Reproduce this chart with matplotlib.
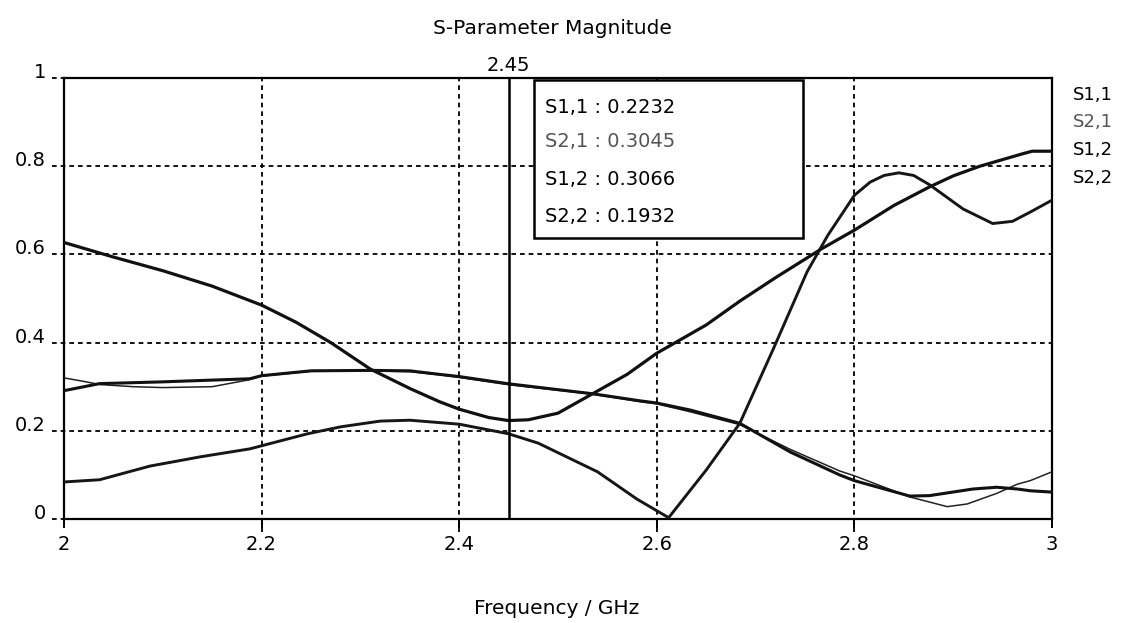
import matplotlib
matplotlib.use("Agg")
import matplotlib.pyplot as plt

# ---------------- data ----------------
s11_f = [2.00, 2.05, 2.10, 2.15, 2.20, 2.235, 2.27, 2.31, 2.35, 2.38, 2.40, 2.43, 2.45,
         2.47, 2.50, 2.535, 2.57, 2.60, 2.65, 2.684, 2.72, 2.767, 2.80, 2.84, 2.876, 2.90,
         2.927, 2.95, 2.97, 2.98, 3.00]
s11_v = [0.627, 0.594, 0.563, 0.528, 0.485, 0.446, 0.400, 0.340, 0.296, 0.266, 0.249,
         0.230, 0.2232, 0.225, 0.240, 0.284, 0.328, 0.376, 0.440, 0.494, 0.547, 0.613, 0.655,
         0.711, 0.753, 0.778, 0.800, 0.815, 0.828, 0.834, 0.834]

s22_f = [2.00, 2.036, 2.087, 2.138, 2.188, 2.20, 2.246, 2.28, 2.32, 2.35, 2.40, 2.45, 2.48,
         2.54, 2.58, 2.612, 2.65, 2.684, 2.718, 2.752, 2.773, 2.80, 2.816, 2.83, 2.845, 2.86,
         2.876, 2.91, 2.94, 2.96, 2.978, 3.00]
s22_v = [0.084, 0.089, 0.120, 0.141, 0.159, 0.166, 0.193, 0.209, 0.222, 0.224, 0.215, 0.1932,
         0.172, 0.107, 0.045, 0.003, 0.111, 0.217, 0.386, 0.560, 0.643, 0.734, 0.764, 0.779,
         0.785, 0.779, 0.758, 0.703, 0.670, 0.675, 0.696, 0.723]

s12_f = [2.00, 2.036, 2.10, 2.188, 2.20, 2.25, 2.31, 2.35, 2.38, 2.40, 2.45, 2.535, 2.583,
         2.60, 2.634, 2.684, 2.735, 2.785, 2.80, 2.856, 2.876, 2.92, 2.944, 2.965, 2.978, 3.00]
s12_v = [0.291, 0.307, 0.311, 0.318, 0.325, 0.336, 0.337, 0.336, 0.328, 0.323, 0.3066, 0.284,
         0.268, 0.263, 0.247, 0.217, 0.152, 0.100, 0.087, 0.052, 0.053, 0.068, 0.072, 0.068,
         0.064, 0.061]

s21_f = [2.00, 2.02, 2.036, 2.07, 2.10, 2.15, 2.188, 2.20, 2.25, 2.31, 2.35, 2.38, 2.40, 2.45,
         2.535, 2.583, 2.60, 2.634, 2.684, 2.735, 2.785, 2.80, 2.856, 2.894, 2.914, 2.944,
         2.965, 2.978, 3.00]
s21_v = [0.320, 0.312, 0.305, 0.300, 0.298, 0.300, 0.316, 0.324, 0.335, 0.336, 0.334, 0.327,
         0.321, 0.3045, 0.283, 0.266, 0.261, 0.243, 0.214, 0.158, 0.109, 0.098, 0.050, 0.028,
         0.034, 0.058, 0.079, 0.087, 0.107]

marker_f = 2.45
marker_names = ["S1,1", "S2,1", "S1,2", "S2,2"]
marker_vals = ["0.2232", "0.3045", "0.3066", "0.1932"]

x_ticks = [2.0, 2.2, 2.4, 2.6, 2.8, 3.0]
x_labels = ["2", "2.2", "2.4", "2.6", "2.8", "3"]
y_ticks = [0, 0.2, 0.4, 0.6, 0.8, 1.0]
y_labels = ["0", "0.2", "0.4", "0.6", "0.8", "1"]

title = "S-Parameter Magnitude"
xlabel = "Frequency / GHz"

# ---------------- figure ----------------
plt.rcParams['font.family'] = ['DejaVu Sans']
W, H = 1123, 623
fig = plt.figure(figsize=(W / 100, H / 100), dpi=100)
fig.patch.set_facecolor('white')
ax = fig.add_axes([64 / W, 1 - 519 / H, (1052 - 64) / W, (519 - 78) / H])
ax.set_xlim(2, 3)
ax.set_ylim(0, 1)

dash = (0, (2.6, 2.2))
for xv in x_ticks[1:-1]:
    ax.axvline(xv, ymin=-0.03, ymax=1, color='black', lw=1.3, ls=dash, clip_on=False, zorder=1)
for yv in y_ticks[1:-1]:
    ax.axhline(yv, xmin=-0.012, xmax=1, color='black', lw=1.3, ls=dash, clip_on=False, zorder=1)
for yv in (0, 1):
    ax.plot([-0.012, 0], [yv, yv], transform=ax.get_yaxis_transform(), color='black',
            lw=1.3, ls=dash, clip_on=False)

ax.plot(s21_f, s21_v, color='#222222', lw=1.1, zorder=3, solid_joinstyle='round')
ax.plot(s12_f, s12_v, color='#111111', lw=2.2, zorder=3, solid_joinstyle='round')
ax.plot(s22_f, s22_v, color='#161616', lw=2.1, zorder=3, solid_joinstyle='round')
ax.plot(s11_f, s11_v, color='#111111', lw=2.3, zorder=3, solid_joinstyle='round')

ax.axvline(marker_f, color='black', lw=1.8, zorder=4)
ax.text(marker_f, 1.015, f"{marker_f:g}", transform=ax.get_xaxis_transform(),
        ha='center', va='baseline', fontsize=14)

for sp in ax.spines.values():
    sp.set_linewidth(1.6)
    sp.set_color('black')

ax.set_xticks(x_ticks)
ax.set_xticklabels(x_labels, fontsize=14)
ax.set_yticks(y_ticks)
ax.set_yticklabels(y_labels, fontsize=14)
ax.tick_params(axis='x', length=6.5, width=1.4, pad=5, direction='out')
ax.tick_params(axis='y', length=0, pad=13)
for lab in ax.get_yticklabels():
    lab.set_verticalalignment('baseline')

# marker readout box
box = plt.Rectangle((0.476, 0.637), 0.272, 0.358, transform=ax.transAxes,
                    facecolor='white', edgecolor='black', lw=1.8, zorder=5)
ax.add_patch(box)
ys = [0.934, 0.855, 0.770, 0.686]
for name, val, yy in zip(marker_names, marker_vals, ys):
    col = '#555555' if name == "S2,1" else 'black'
    ax.text(0.487, yy, f"{name} : {val}", transform=ax.transAxes, ha='left',
            va='center', fontsize=14, color=col, zorder=6)

# right-side series labels
ry = [95, 122, 150, 178]
for name, yy in zip(marker_names, ry):
    col = '#555555' if name == "S2,1" else 'black'
    fig.text(1073 / W, 1 - yy / H, name, ha='left', va='center', fontsize=13, color=col)

fig.text(552 / W, 1 - 28 / H, title, ha='center', va='center', fontsize=14.5)
fig.text(557 / W, 1 - 608 / H, xlabel, ha='center', va='center', fontsize=14.5)

fig.savefig("out.png", dpi=100, facecolor='white')
